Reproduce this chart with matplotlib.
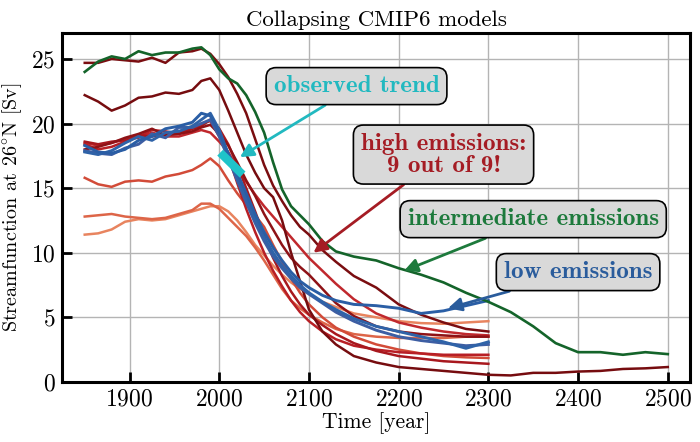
import numpy as np
import matplotlib
matplotlib.use("Agg")
import matplotlib.pyplot as plt
from matplotlib import rcParams

rcParams.update({
    "font.family": ["cmr10", "DejaVu Serif"],
    "mathtext.fontset": "cm",
    "axes.formatter.use_mathtext": True,
    "axes.unicode_minus": False,
})

# common year grid for the models that stop in 2300
years = [1850, 1865, 1880, 1895, 1910, 1925, 1940, 1955, 1970, 1980, 1990,
         2000, 2010, 2020, 2030, 2040, 2050, 2060, 2070, 2080, 2090, 2100,
         2115, 2130, 2150, 2175, 2200, 2225, 2250, 2275, 2300]
years_ext = [2325, 2350, 2375, 2400, 2425, 2450, 2475, 2500]

# intermediate emissions (runs to 2500)
green = [24.0, 24.8, 25.2, 25.0, 25.6, 25.3, 25.5, 25.5, 25.8, 25.9, 25.3,
         24.2, 23.5, 23.1, 22.2, 20.9, 19.3, 17.0, 14.9, 13.6, 12.9, 12.2,
         10.9, 10.1, 9.7, 9.4, 8.8, 8.3, 7.7, 6.9, 6.2]
green_ext = [5.4, 4.3, 3.0, 2.3, 2.3, 2.1, 2.3, 2.15]

# high emissions
red_a = [24.7, 24.7, 25.0, 24.9, 24.8, 25.1, 24.7, 25.5, 25.6, 25.8, 25.4,
         24.6, 23.6, 22.3, 20.8, 18.8, 16.8, 15.2, 14.0, 12.9, 12.0, 11.4,
         10.2, 9.3, 8.2, 7.3, 6.0, 5.2, 4.6, 4.1, 3.9]
red_b = [22.2, 21.7, 21.0, 21.4, 22.0, 22.1, 22.4, 22.3, 22.6, 23.3, 23.5,
         22.6, 21.0, 19.3, 17.6, 16.2, 15.0, 14.3, 12.5, 10.0, 7.8, 5.6,
         3.9, 2.9, 2.0, 1.5, 1.15, 1.0, 0.85, 0.7, 0.55]
red_b_ext = [0.5, 0.7, 0.7, 0.8, 0.85, 1.0, 1.05, 1.15]
red_c = [18.5, 18.3, 18.5, 18.8, 18.9, 19.3, 19.0, 19.0, 19.3, 19.5, 19.3,
         18.6, 17.8, 16.6, 15.5, 14.5, 13.6, 12.8, 12.0, 11.2, 10.4, 9.6,
         8.6, 7.6, 6.4, 5.3, 4.6, 4.2, 3.9, 3.7, 3.6]
red_k = [18.4, 18.0, 18.2, 18.6, 19.0, 19.5, 19.4, 19.2, 19.6, 20.0, 20.2,
         19.0, 17.5, 15.4, 13.4, 11.6, 10.0, 8.6, 7.4, 6.3, 5.4, 4.7,
         3.9, 3.3, 2.8, 2.5, 2.3, 2.2, 2.1, 2.1, 2.1]
red_m = [18.6, 18.4, 18.6, 18.7, 19.1, 19.0, 19.2, 19.3, 19.6, 19.8, 20.3,
         19.6, 18.4, 16.8, 15.0, 13.2, 11.3, 9.6, 8.2, 7.0, 6.0, 5.2,
         4.4, 3.7, 3.0, 2.4, 2.0, 1.8, 1.6, 1.5, 1.4]
red_l = [18.0, 18.2, 18.5, 18.9, 19.2, 19.6, 19.1, 19.2, 19.4, 19.7, 19.9,
         19.2, 18.3, 17.0, 15.6, 14.4, 13.0, 11.8, 10.6, 9.6, 8.9, 8.3,
         7.2, 6.1, 5.1, 4.3, 3.9, 3.7, 3.6, 3.5, 3.5]
red_g = [15.8, 15.3, 15.1, 15.5, 15.6, 15.5, 15.9, 16.1, 16.4, 16.8, 17.3,
         16.7, 15.6, 14.6, 13.7, 12.9, 12.0, 10.6, 9.3, 8.0, 6.9, 6.0,
         5.0, 4.2, 3.5, 2.9, 2.5, 2.2, 2.0, 1.9, 1.85]
red_h = [12.8, 12.9, 13.0, 12.8, 12.7, 12.6, 12.7, 13.0, 13.3, 13.8, 13.8,
         13.4, 12.7, 12.0, 11.3, 10.4, 9.4, 8.3, 7.2, 6.3, 5.7, 5.2,
         4.6, 4.1, 3.7, 3.5, 3.4, 3.4, 3.4, 3.5, 3.5]
red_i = [11.4, 11.5, 11.8, 12.4, 12.6, 12.5, 12.6, 12.9, 13.2, 13.4, 13.6,
         13.6, 13.2, 12.5, 11.6, 10.6, 9.8, 9.0, 8.3, 7.7, 7.2, 6.8,
         6.2, 5.8, 5.3, 5.0, 4.7, 4.55, 4.5, 4.6, 4.7]

# low emissions
blue_d = [18.3, 17.8, 17.7, 18.0, 18.7, 19.0, 19.6, 19.8, 20.1, 20.8, 20.6,
          19.3, 17.7, 16.2, 14.6, 13.0, 11.6, 10.4, 9.4, 8.5, 7.8, 7.3,
          6.7, 6.3, 6.0, 5.9, 5.7, 5.3, 5.5, 5.9, 6.3]
blue_e = [17.8, 17.6, 17.9, 18.5, 19.0, 18.7, 19.3, 19.4, 19.8, 20.3, 20.8,
          19.5, 17.6, 15.9, 14.2, 12.6, 11.2, 10.0, 9.0, 8.2, 7.5, 6.9,
          6.2, 5.6, 4.9, 4.3, 3.9, 3.5, 3.1, 2.6, 3.1]
blue_f = [17.9, 17.7, 17.6, 18.1, 18.4, 19.2, 18.9, 19.7, 19.7, 20.0, 20.3,
          19.0, 17.3, 15.6, 13.9, 12.3, 10.9, 9.7, 8.8, 8.0, 7.3, 6.8,
          6.1, 5.4, 4.7, 4.0, 3.5, 3.2, 3.0, 2.8, 2.9]

# observed trend
obs_years = [2001, 2026]
obs_vals = [17.75, 16.05]

fig = plt.figure(figsize=(7, 4.42), dpi=100)
ax = fig.add_axes([0.089, 0.136, 0.897, 0.789])

lw = 1.8
ax.plot(years, red_i, color='#e8845f', lw=lw)
ax.plot(years, red_h, color='#dd6548', lw=lw)
ax.plot(years, red_g, color='#d24b38', lw=lw)
ax.plot(years, red_c, color='#c0282d', lw=lw)
ax.plot(years, red_k, color='#b81f25', lw=lw)
ax.plot(years, red_m, color='#a8181e', lw=lw)
ax.plot(years, red_l, color='#8e1216', lw=lw)
ax.plot(years + years_ext, red_b + red_b_ext, color='#760c0f', lw=lw)
ax.plot(years, red_a, color='#7a0d10', lw=lw)
ax.plot(years, blue_f, color='#3d5ea3', lw=2.1)
ax.plot(years, blue_e, color='#2f63a8', lw=2.1)
ax.plot(years, blue_d, color='#2a5ea5', lw=2.1)
ax.plot(years + years_ext, green + green_ext, color='#14642a', lw=1.9)
ax.plot(obs_years, obs_vals, color='#1fc3c9', lw=6, solid_capstyle='butt')

ax.set_xlim(1825, 2525)
ax.set_ylim(0, 27)
ax.set_xticks([1900, 2000, 2100, 2200, 2300, 2400, 2500])
ax.set_yticks([0, 5, 10, 15, 20, 25])
ax.grid(True, color='#b4b4b4', lw=1)
ax.set_axisbelow(True)
ax.tick_params(direction='in', length=7, width=2, labelsize=17, pad=5)
for s in ax.spines.values():
    s.set_linewidth(2.2)

ax.set_title("Collapsing CMIP6 models", fontsize=16.5, pad=5)
ax.set_xlabel("Time [year]", fontsize=15.5, labelpad=1)
ax.set_ylabel("Streamfunction at 26$^{\\circ}$N [Sv]", fontsize=14.5, labelpad=5)

box = dict(boxstyle='round,pad=0.3,rounding_size=0.4', fc='#d9d9d9', ec='black', lw=1.2)

def note(text, xy, xytext, color):
    ax.annotate(text, xy=xy, xytext=xytext, ha='center', va='center',
                color=color, fontsize=18, family=['cmb10', 'DejaVu Serif'],
                bbox=box, linespacing=1.0,
                arrowprops=dict(arrowstyle='-|>', color=color, lw=2,
                                mutation_scale=20, shrinkA=0, shrinkB=0))

note("observed trend", (2023, 17.4), (2153, 22.9), '#22b9c0')
note("high emissions:\n9 out of 9!", (2105, 10.0), (2250, 17.6), '#a51c24')
note("intermediate emissions", (2206, 8.6), (2350, 12.6), '#1d7a3c')
note("low emissions", (2255, 5.7), (2400, 8.5), '#2a5c9c')

plt.savefig("out.png", dpi=100)
